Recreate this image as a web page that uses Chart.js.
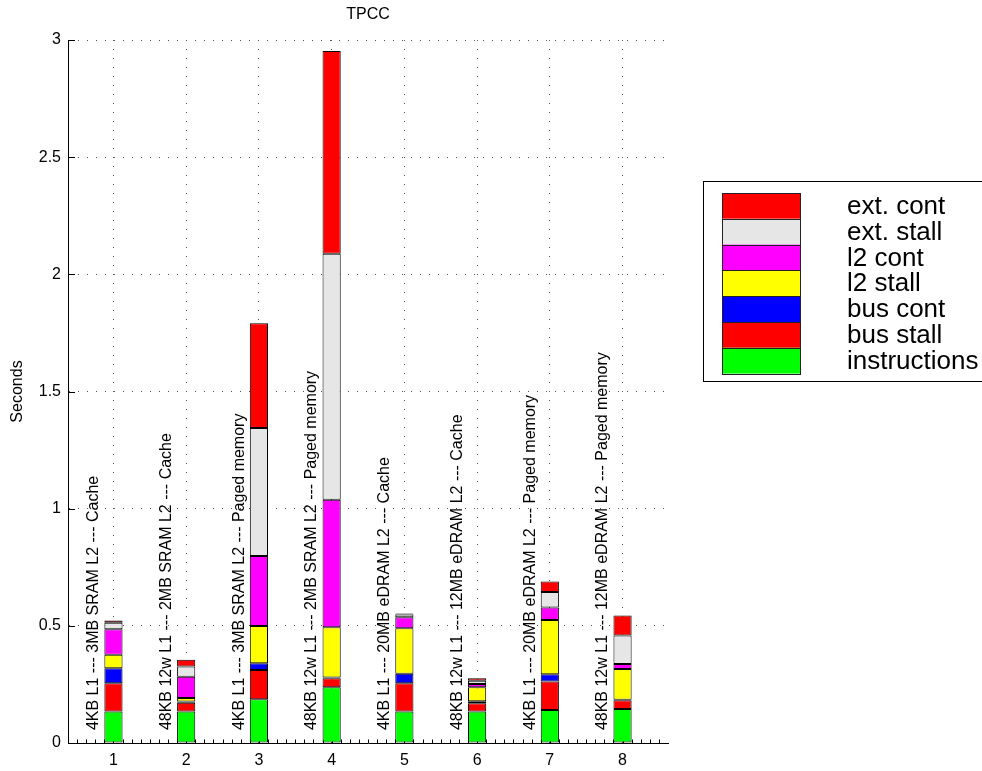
<!DOCTYPE html>
<html>
<head>
<meta charset="utf-8">
<title>TPCC</title>
<script src="https://cdn.jsdelivr.net/npm/chart.js@4.4.1/dist/chart.umd.min.js"></script>
<style>
  html, body { margin: 0; padding: 0; background: #fff; }
  #wrap { width: 982px; height: 771px; position: relative; }
</style>
</head>
<body>
<div id="wrap"><canvas id="chart"></canvas></div>
<script>
// Memory-hierarchy configurations (x positions 1..8)
const configs = [1, 2, 3, 4, 5, 6, 7, 8];
const configLabels = [
  '4KB L1 --- 3MB SRAM L2 --- Cache',
  '48KB 12w L1 --- 2MB SRAM L2 --- Cache',
  '4KB L1 --- 3MB SRAM L2 --- Paged memory',
  '48KB 12w L1 --- 2MB SRAM L2 --- Paged memory',
  '4KB L1 --- 20MB eDRAM L2 --- Cache',
  '48KB 12w L1 --- 12MB eDRAM L2 --- Cache',
  '4KB L1 --- 20MB eDRAM L2 --- Paged memory',
  '48KB 12w L1 --- 12MB eDRAM L2 --- Paged memory'
];

// Execution-time components, seconds (stacked bottom to top)
const instructions = [0.134, 0.134, 0.187, 0.238, 0.134, 0.134, 0.141, 0.145];
const busStall     = [0.121, 0.038, 0.125, 0.038, 0.121, 0.036, 0.121, 0.037];
const busCont      = [0.064, 0.005, 0.028, 0.004, 0.040, 0.008, 0.031, 0.003];
const l2Stall      = [0.058, 0.015, 0.159, 0.214, 0.195, 0.060, 0.232, 0.131];
const l2Cont       = [0.108, 0.091, 0.299, 0.544, 0.047, 0.014, 0.053, 0.021];
const extStall     = [0.028, 0.043, 0.546, 1.050, 0.011, 0.014, 0.066, 0.122];
const extCont      = [0.010, 0.029, 0.447, 0.865, 0.005, 0.010, 0.045, 0.085];

const seriesNames  = ['instructions', 'bus stall', 'bus cont', 'l2 stall', 'l2 cont', 'ext. stall', 'ext. cont'];
const seriesColors = ['#00ff00', '#ff0000', '#0000ff', '#ffff00', '#ff00ff', '#e6e6e6', '#ff0000'];
const seriesValues = [instructions, busStall, busCont, l2Stall, l2Cont, extStall, extCont];

const yTicks = [0, 0.5, 1, 1.5, 2, 2.5, 3];
const chartTitle = 'TPCC';
const yTitle = 'Seconds';

const FONT = '"Liberation Sans", Arial, Helvetica, sans-serif';

const datasets = seriesNames.map((name, s) => ({
  label: name,
  data: configs.map((x, i) => ({ x: x, y: seriesValues[s][i] })),
  backgroundColor: seriesColors[s],
  borderColor: '#000',
  borderWidth: 1,
  borderSkipped: false,
  barPercentage: 0.25,
  categoryPercentage: 1.0
}));

// Inward tick marks, rotated per-bar captions, title and the boxed legend
const decor = {
  id: 'decor',
  beforeDatasetsDraw(chart) {
    const { ctx, chartArea: a, scales: { x, y } } = chart;
    ctx.save();
    ctx.strokeStyle = '#000';
    ctx.lineWidth = 1;
    ctx.beginPath();
    for (let v = 0.5; v <= 8.5 + 1e-9; v += 0.125) {
      const px = Math.round(x.getPixelForValue(v)) + 0.5;
      ctx.moveTo(px, a.bottom);
      ctx.lineTo(px, a.bottom - 3.5);
    }
    configs.forEach(v => {
      const px = Math.round(x.getPixelForValue(v)) + 0.5;
      ctx.moveTo(px, a.bottom);
      ctx.lineTo(px, a.bottom - 7);
    });
    yTicks.forEach(v => {
      const py = Math.round(y.getPixelForValue(v)) + 0.5;
      ctx.moveTo(a.left, py);
      ctx.lineTo(a.left + 7, py);
    });
    ctx.stroke();
    ctx.restore();
  },
  afterDatasetsDraw(chart) {
    const { ctx, scales: { x, y } } = chart;
    ctx.save();
    ctx.font = '16px ' + FONT;
    ctx.fillStyle = '#000';
    ctx.textAlign = 'left';
    ctx.textBaseline = 'middle';
    configs.forEach((v, i) => {
      ctx.save();
      ctx.translate(x.getPixelForValue(v - 0.27), y.getPixelForValue(0.055));
      ctx.rotate(-Math.PI / 2);
      ctx.fillText(configLabels[i], 0, 0);
      ctx.restore();
    });
    ctx.restore();
  },
  afterDraw(chart) {
    const { ctx, chartArea: a } = chart;
    ctx.save();
    // title
    ctx.font = '16px ' + FONT;
    ctx.fillStyle = '#000';
    ctx.textAlign = 'center';
    ctx.textBaseline = 'middle';
    ctx.fillText(chartTitle, (a.left + a.right) / 2, 15);

    // legend
    const lx = 703, ly = 181, lw = 300, lh = 200;
    ctx.fillStyle = '#fff';
    ctx.fillRect(lx, ly, lw, lh);
    ctx.strokeStyle = '#000';
    ctx.lineWidth = 1;
    ctx.strokeRect(lx + 0.5, ly + 0.5, lw, lh);
    const sx = 722, sy = 193, sw = 78, sh = 25.8;
    ctx.font = '26px ' + FONT;
    ctx.textAlign = 'left';
    ctx.textBaseline = 'middle';
    for (let k = 0; k < seriesNames.length; k++) {
      const idx = seriesNames.length - 1 - k;
      const top = sy + sh * k;
      ctx.fillStyle = seriesColors[idx];
      ctx.fillRect(sx, top, sw, sh);
      ctx.strokeStyle = '#222';
      ctx.strokeRect(sx + 0.5, Math.round(top) + 0.5, sw, Math.round(sh));
      ctx.fillStyle = '#000';
      ctx.fillText(seriesNames[idx], 847, top + sh / 2 + 1);
    }
    ctx.restore();
  }
};

new Chart(document.getElementById('chart'), {
  type: 'bar',
  data: { datasets: datasets },
  options: {
    responsive: true,
    maintainAspectRatio: false,
    animation: false,
    layout: { padding: { top: 40, right: 314, left: 0, bottom: 0 } },
    plugins: {
      legend: { display: false },
      title: { display: false },
      tooltip: { enabled: false }
    },
    scales: {
      x: {
        type: 'linear',
        min: 0.375,
        max: 8.625,
        offset: false,
        stacked: true,
        afterBuildTicks: ax => { ax.ticks = configs.map(v => ({ value: v })); },
        afterFit: ax => { ax.height = 28; },
        grid: { color: '#555', lineWidth: 1, drawTicks: false, offset: false },
        border: { display: true, color: '#000', width: 1, dash: [1, 8] },
        ticks: {
          font: { family: FONT, size: 16 },
          color: '#000',
          padding: 8,
          maxRotation: 0,
          autoSkip: false,
          callback: v => String(v)
        }
      },
      y: {
        min: 0,
        max: 3,
        stacked: true,
        afterBuildTicks: ax => { ax.ticks = yTicks.map(v => ({ value: v })); },
        afterFit: ax => { ax.width = 68; },
        grid: { color: '#555', lineWidth: 1, drawTicks: false },
        border: { display: true, color: '#000', width: 1, dash: [1, 8] },
        ticks: {
          font: { family: FONT, size: 16 },
          color: '#000',
          padding: 7,
          callback: v => String(v)
        },
        title: {
          display: true,
          text: yTitle,
          color: '#000',
          font: { family: FONT, size: 16 },
          padding: { top: 8, bottom: 0 }
        }
      }
    }
  },
  plugins: [decor]
});
</script>
</body>
</html>
